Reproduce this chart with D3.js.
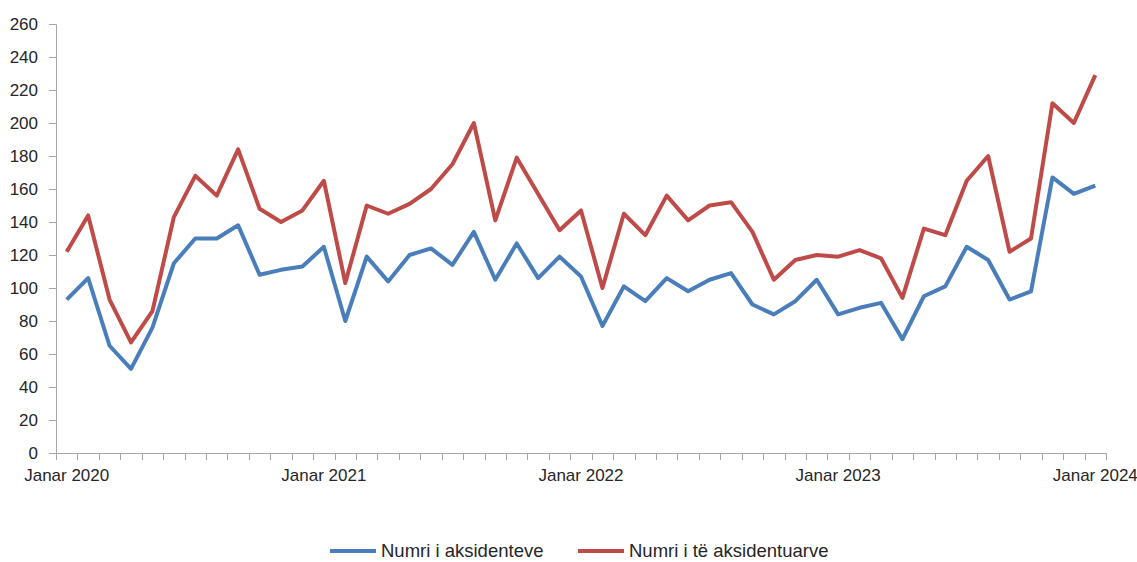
<!DOCTYPE html>
<html>
<head>
<meta charset="utf-8">
<script src="https://cdn.jsdelivr.net/npm/d3@7"></script>
<style>
  body { margin: 0; background: #fff; }
  svg { display: block; font-family: "Liberation Sans", Arial, sans-serif; }
</style>
</head>
<body>
<script>
// months Jan 2020 .. Jan 2024 (49 points)
var months = d3.range(49);
var yearLabels = ["Janar 2020", "Janar 2021", "Janar 2022", "Janar 2023", "Janar 2024"];
var yTicks = [0, 20, 40, 60, 80, 100, 120, 140, 160, 180, 200, 220, 240, 260];

var aksidente = [93, 106, 65, 51, 76, 115, 130, 130, 138, 108, 111, 113,
                 125, 80, 119, 104, 120, 124, 114, 134, 105, 127, 106, 119,
                 107, 77, 101, 92, 106, 98, 105, 109, 90, 84, 92, 105,
                 84, 88, 91, 69, 95, 101, 125, 117, 93, 98, 167, 157,
                 162];
var aksidentuar = [122, 144, 93, 67, 86, 143, 168, 156, 184, 148, 140, 147,
                   165, 103, 150, 145, 151, 160, 175, 200, 141, 179, 157, 135,
                   147, 100, 145, 132, 156, 141, 150, 152, 134, 105, 117, 120,
                   119, 123, 118, 94, 136, 132, 165, 180, 122, 130, 212, 200,
                   229];

var series = [
  {name: "Numri i aksidenteve", values: aksidente, color: "#4a7ebb"},
  {name: "Numri i të aksidentuarve", values: aksidentuar, color: "#be4b48"}
];

var width = 1137, height = 562;
var mLeft = 56, mRight = 1106, mTop = 24, mBottom = 453;

var svg = d3.select("body").append("svg")
    .attr("width", width)
    .attr("height", height);

var x = d3.scaleBand().domain(months).range([mLeft, mRight]);
var y = d3.scaleLinear().domain([0, 260]).range([mBottom, mTop]);

var axisColor = "#a6a6a6";
var textColor = "#262626";

// y axis
var yAxis = svg.append("g")
    .attr("transform", "translate(" + mLeft + ",0)")
    .call(d3.axisLeft(y).tickValues(yTicks).tickSize(7).tickPadding(11));
yAxis.select(".domain").attr("stroke", axisColor);
yAxis.selectAll(".tick line").attr("stroke", axisColor);
yAxis.selectAll("text")
    .attr("fill", textColor)
    .style("font-size", "17px")
    .style("font-family", "Liberation Sans, Arial, sans-serif");

// x axis: ticks at band boundaries
var xAxis = svg.append("g")
    .attr("transform", "translate(0," + mBottom + ")");
xAxis.append("line")
    .attr("x1", mLeft).attr("x2", mRight)
    .attr("y1", 0.5).attr("y2", 0.5)
    .attr("stroke", axisColor);
var bounds = months.map(function(m){ return x(m); }).concat([mRight]);
xAxis.selectAll(".tk")
    .data(bounds)
    .enter().append("line")
    .attr("class", "tk")
    .attr("x1", function(d){ return Math.round(d) + 0.5; })
    .attr("x2", function(d){ return Math.round(d) + 0.5; })
    .attr("y1", 0).attr("y2", 7)
    .attr("stroke", axisColor);
xAxis.selectAll(".lbl")
    .data(yearLabels)
    .enter().append("text")
    .attr("class", "lbl")
    .attr("x", function(d, i){ return x(i * 12) + x.bandwidth() / 2; })
    .attr("y", 28)
    .attr("text-anchor", "middle")
    .attr("fill", textColor)
    .style("font-size", "17px")
    .text(function(d){ return d; });

// lines
var line = d3.line()
    .x(function(d, i){ return x(i) + x.bandwidth() / 2; })
    .y(function(d){ return y(d); });

svg.selectAll(".series")
    .data(series)
    .enter().append("path")
    .attr("class", "series")
    .attr("d", function(d){ return line(d.values); })
    .attr("fill", "none")
    .attr("stroke", function(d){ return d.color; })
    .attr("stroke-width", 4)
    .attr("stroke-linejoin", "round");

// legend
var legendX = [330, 578];
var leg = svg.selectAll(".legend")
    .data(series)
    .enter().append("g")
    .attr("class", "legend")
    .attr("transform", function(d, i){ return "translate(" + legendX[i] + ",551)"; });
leg.append("line")
    .attr("x1", 0).attr("x2", 46)
    .attr("stroke", function(d){ return d.color; })
    .attr("stroke-width", 4);
leg.append("text")
    .attr("x", 51)
    .attr("y", 6)
    .attr("fill", textColor)
    .style("font-size", "18.5px")
    .text(function(d){ return d.name; });
</script>
</body>
</html>
